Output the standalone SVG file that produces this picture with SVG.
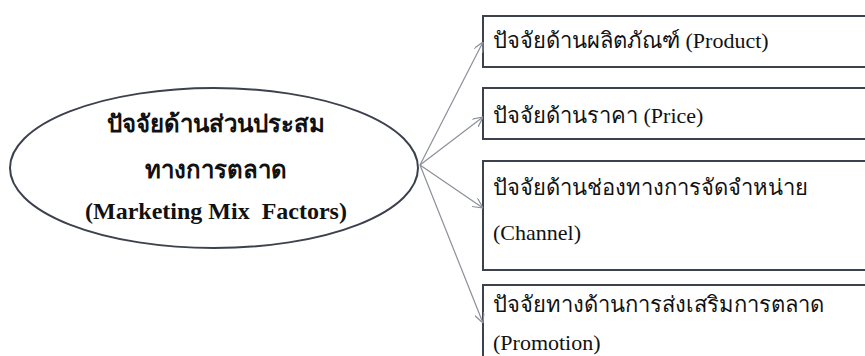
<svg xmlns="http://www.w3.org/2000/svg" width="865" height="356" viewBox="0 0 865 356">
  <style>
    .box { fill: #ffffff; stroke: #3c414e; stroke-width: 2; }
    .hub { fill: #ffffff; stroke: #3c414e; stroke-width: 2; }
    .link { fill: none; stroke: #8b8f99; stroke-width: 1.2; }
    .hubtxt { font-family: "Liberation Serif", "DejaVu Serif", serif; font-size: 24px; font-weight: bold; fill: #111111; text-anchor: middle; white-space: pre; }
    .txt { font-family: "Liberation Serif", "DejaVu Serif", serif; font-size: 22px; fill: #111111; }
  </style>
  <defs>
    <marker id="arrow" viewBox="0 0 10 10" refX="10" refY="5" markerWidth="10" markerHeight="10" markerUnits="userSpaceOnUse" orient="auto">
      <path d="M0,0 L10,5 L0,10" fill="none" stroke="#8b8f99" stroke-width="1.2"/>
    </marker>
  </defs>
  <rect width="865" height="356" fill="#ffffff"/>

  <g id="hub">
    <ellipse class="hub" cx="214" cy="168" rx="204" ry="80"/>
    <text class="hubtxt" x="216" y="132">ปัจจัยด้านส่วนประสม</text>
    <text class="hubtxt" x="216" y="178">ทางการตลาด</text>
    <text class="hubtxt" x="216" y="219" xml:space="preserve">(Marketing Mix  Factors)</text>
  </g>

  <g id="product">
    <rect class="box" x="483" y="16" width="420" height="51"/>
    <text class="txt" x="493" y="48">ปัจจัยด้านผลิตภัณฑ์ (Product)</text>
  </g>

  <g id="price">
    <rect class="box" x="483" y="88" width="420" height="51"/>
    <text class="txt" x="493" y="123">ปัจจัยด้านราคา (Price)</text>
  </g>

  <g id="channel">
    <rect class="box" x="483" y="161" width="420" height="109"/>
    <text class="txt" x="493" y="195">ปัจจัยด้านช่องทางการจัดจำหน่าย</text>
    <text class="txt" x="493" y="240">(Channel)</text>
  </g>

  <g id="promotion">
    <rect class="box" x="483" y="285" width="420" height="100"/>
    <text class="txt" x="493" y="312">ปัจจัยทางด้านการส่งเสริมการตลาด</text>
    <text class="txt" x="493" y="350">(Promotion)</text>
  </g>

  <g id="connectors">
    <line class="link" x1="420" y1="165" x2="483" y2="42" marker-end="url(#arrow)"/>
    <line class="link" x1="420" y1="165" x2="483" y2="117" marker-end="url(#arrow)"/>
    <line class="link" x1="420" y1="165" x2="483" y2="208" marker-end="url(#arrow)"/>
    <line class="link" x1="420" y1="165" x2="483" y2="323" marker-end="url(#arrow)"/>
  </g>
</svg>
